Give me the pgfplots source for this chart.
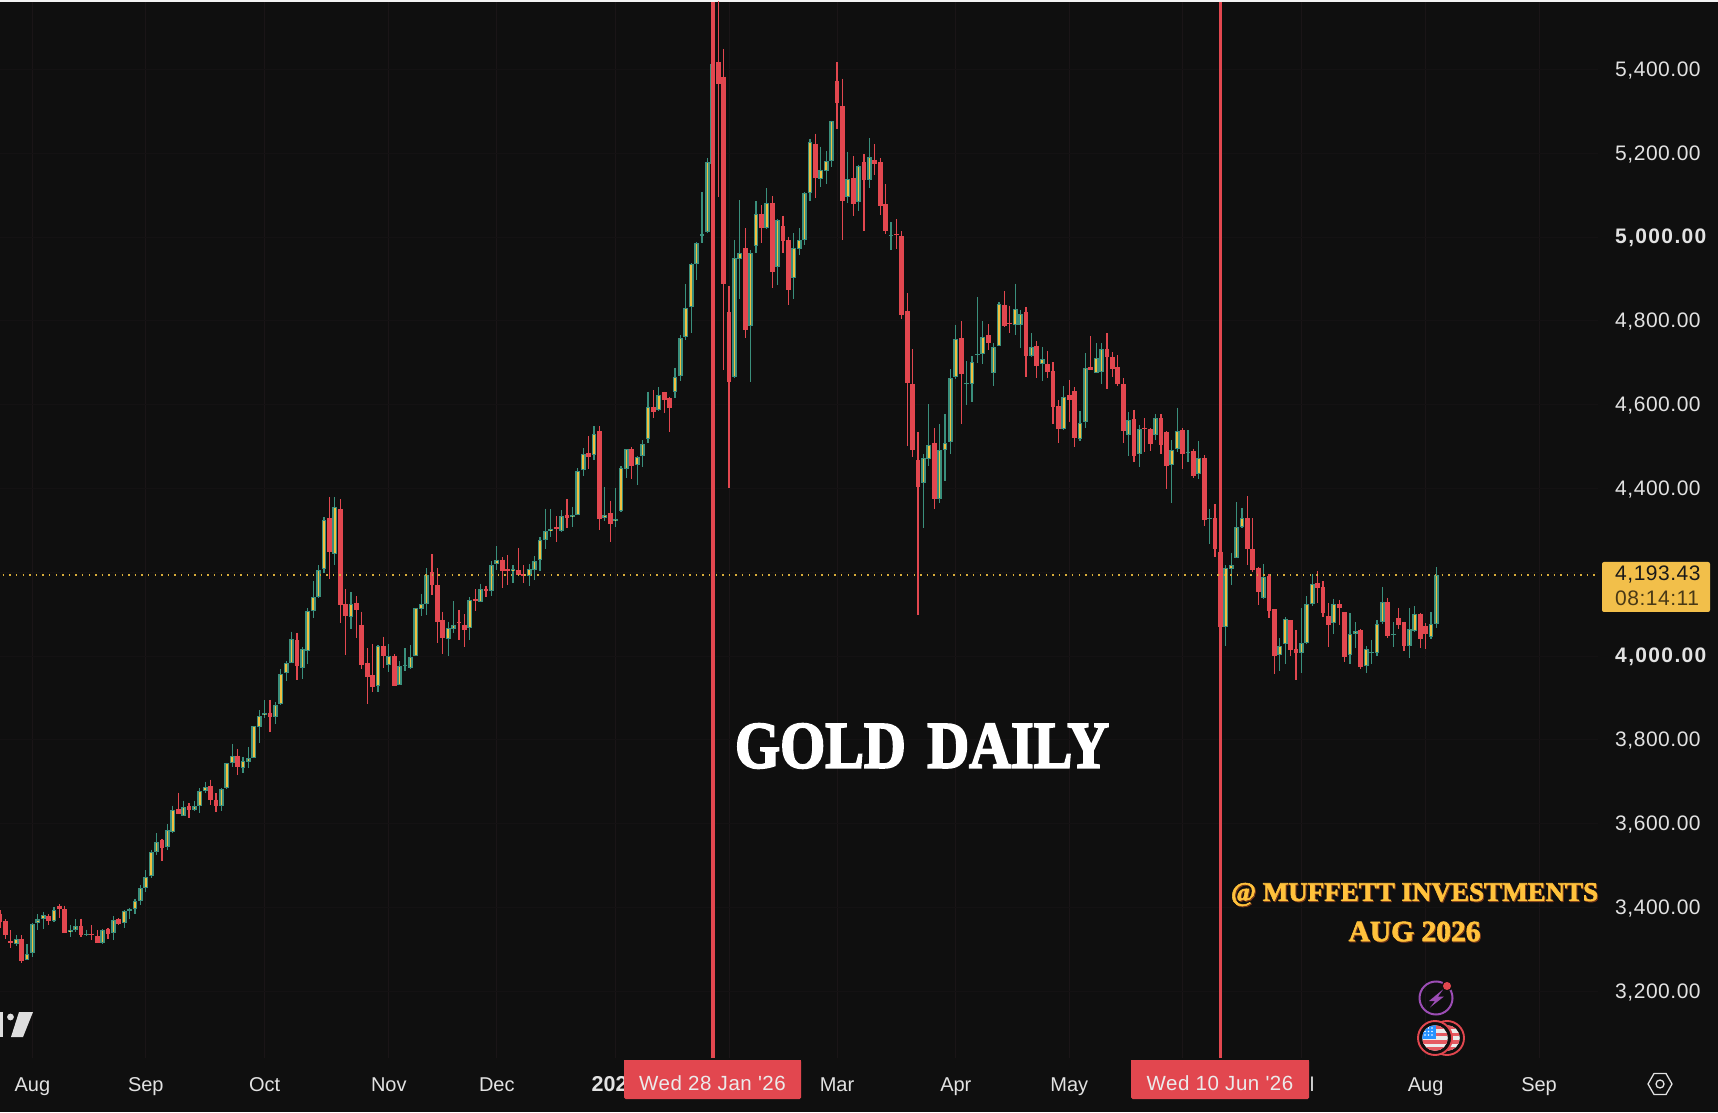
\documentclass[border=0pt]{standalone}
\usepackage{fontspec}
\usepackage{pgfplots}
\usepackage{pgfplotstable}
\pgfplotsset{compat=1.18}
\setmainfont{Liberation Sans}
\newfontfamily\ylab[LetterSpace=2.5]{Liberation Sans}
\newfontfamily\ylabb[LetterSpace=6.4]{Liberation Sans}
\newfontfamily\dlab[LetterSpace=2.5]{Liberation Sans}
\newfontfamily\ttlfont[BoldFeatures={FakeBold=3}]{Liberation Serif}
\newfontfamily\sigfont[BoldFeatures={FakeBold=2}]{Liberation Serif}
\definecolor{bg}{HTML}{0F0F0F}
\definecolor{gridc}{HTML}{1A1517}
\definecolor{gridh}{HTML}{141213}
\definecolor{upc}{HTML}{3A8F7C}
\definecolor{inc}{HTML}{F0C040}
\definecolor{dnc}{HTML}{E2474F}
\definecolor{txt}{HTML}{E2E2E2}
\definecolor{gold}{HTML}{FFC23C}
\definecolor{goldsh}{HTML}{7C3A18}
\definecolor{lab}{HTML}{F2BF4A}
\definecolor{purp}{HTML}{9C4DB5}

\pgfplotstableread{
i o h l c
3 3313 3333 3308 3324
5 3275 3313 3274 3289
6 3290 3362 3281 3361
7 3363 3383 3346 3371
8 3373 3390 3349 3381
10 3367 3401 3366 3393
13 3342 3358 3330 3347
14 3345 3371 3341 3355
16 3334 3347 3331 3337
19 3314 3348 3312 3347
21 3339 3379 3322 3370
23 3363 3393 3351 3392
24 3392 3398 3373 3396
25 3397 3421 3385 3415
26 3415 3453 3405 3447
27 3447 3488 3436 3473
28 3476 3538 3471 3531
29 3531 3577 3526 3557
31 3544 3598 3538 3584
32 3579 3643 3578 3633
34 3619 3655 3617 3639
36 3632 3655 3629 3641
37 3642 3684 3625 3677
38 3677 3700 3674 3687
41 3642 3684 3631 3683
42 3685 3745 3683 3744
43 3745 3790 3735 3762
45 3733 3760 3721 3749
46 3748 3782 3733 3757
47 3757 3833 3756 3833
48 3831 3870 3792 3856
49 3858 3894 3852 3865
51 3854 3890 3837 3884
52 3886 3969 3883 3958
53 3959 3989 3940 3983
54 3983 4058 3983 4040
56 3972 4021 3945 4016
57 4011 4115 3981 4108
58 4108 4179 4091 4140
59 4140 4216 4139 4205
60 4207 4331 4198 4324
62 4244 4380 4218 4355
65 4093 4152 4064 4124
70 3929 4026 3914 4023
72 3979 4028 3962 4000
74 3931 3988 3930 3977
75 3975 4018 3964 3978
76 3972 4026 3970 3998
77 3999 4115 3999 4114
78 4113 4147 4096 4124
79 4125 4209 4098 4193
83 4041 4082 4000 4066
84 4064 4131 4056 4075
87 4067 4140 4038 4133
89 4130 4173 4129 4161
91 4156 4226 4143 4217
92 4219 4262 4205 4230
95 4202 4217 4174 4208
98 4191 4220 4168 4207
99 4205 4238 4181 4227
100 4228 4284 4203 4278
101 4278 4352 4255 4298
102 4298 4350 4284 4304
104 4299 4348 4297 4335
106 4331 4355 4307 4337
107 4337 4448 4336 4441
108 4445 4496 4429 4483
110 4480 4548 4468 4531
112 4329 4403 4322 4337
114 4323 4401 4308 4328
115 4347 4454 4344 4448
116 4447 4494 4426 4494
118 4457 4477 4407 4475
119 4477 4515 4452 4506
120 4518 4631 4509 4595
122 4586 4642 4584 4624
125 4629 4688 4616 4667
126 4669 4766 4656 4760
127 4762 4888 4754 4830
128 4832 4938 4771 4935
129 4936 4987 4897 4985
130 5003 5107 4985 5007
131 5011 5189 5010 5179
132 5175 5420 5156 5414
136 4666 4992 4663 4949
137 4948 5088 4853 4961
139 4787 4969 4653 4963
140 4979 5085 4962 5055
142 5021 5117 5018 5081
144 4928 5044 4885 5040
147 4903 5009 4853 4975
148 4971 5021 4957 4992
149 4993 5107 4980 5104
150 5104 5235 5087 5226
152 5139 5216 5120 5161
153 5158 5205 5127 5182
154 5182 5278 5166 5276
157 5096 5204 5082 5138
159 5084 5173 5061 5169
161 5136 5236 5116 5190
165 5003 5035 4968 5006
171 4412 4481 4305 4473
172 4469 4601 4454 4504
174 4375 4553 4366 4491
175 4491 4578 4418 4508
176 4511 4684 4483 4664
177 4667 4791 4661 4757
179 4648 4703 4600 4651
180 4648 4715 4606 4702
181 4718 4856 4699 4720
182 4720 4799 4697 4762
184 4676 4747 4644 4737
185 4741 4844 4740 4839
188 4789 4889 4765 4829
189 4791 4826 4736 4817
191 4717 4770 4714 4737
193 4697 4737 4657 4708
197 4541 4645 4539 4619
200 4519 4585 4512 4555
201 4558 4722 4545 4688
203 4676 4747 4675 4712
204 4679 4747 4648 4733
209 4527 4582 4478 4563
211 4481 4551 4452 4542
214 4528 4578 4516 4567
217 4455 4515 4366 4492
218 4495 4593 4488 4538
220 4485 4539 4462 4488
222 4434 4513 4423 4473
224 4327 4352 4268 4329
227 4069 4217 4024 4209
228 4208 4246 4169 4217
229 4235 4367 4235 4307
230 4307 4353 4305 4329
234 4139 4220 4135 4189
237 4002 4042 3963 4024
238 4028 4093 3981 4089
241 4008 4115 3960 4030
242 4030 4143 4029 4123
243 4123 4195 4119 4173
247 4078 4137 4053 4123
250 4002 4102 3982 4052
251 4052 4080 4018 4060
253 3977 4023 3959 4017
254 4007 4038 3982 4010
255 4006 4085 4000 4076
256 4080 4165 4076 4128
258 4049 4080 4022 4052
261 4024 4115 3996 4064
262 4060 4119 4058 4101
265 4046 4105 4041 4076
266 4076 4212 4066 4193
}\upT

\pgfplotstableread{
i o h l c
0 3385 3393 3351 3364
1 3368 3371 3324 3334
2 3319 3345 3302 3316
4 3325 3333 3268 3272
9 3379 3383 3357 3367
11 3404 3407 3374 3395
12 3395 3404 3339 3339
15 3356 3373 3329 3334
17 3337 3357 3323 3335
18 3331 3346 3314 3314
20 3348 3351 3325 3336
22 3371 3374 3359 3361
30 3560 3563 3510 3542
33 3634 3674 3623 3623
35 3641 3649 3613 3632
39 3689 3705 3644 3656
40 3657 3673 3628 3642
44 3762 3778 3715 3734
50 3865 3896 3818 3855
55 4038 4056 3943 3975
61 4330 4380 4184 4248
63 4351 4374 4079 4121
64 4123 4160 4003 4096
66 4126 4142 4043 4109
67 4075 4106 3970 3979
68 3983 4018 3885 3950
69 3954 4028 3914 3926
71 4023 4046 3971 4000
73 4000 4004 3929 3929
80 4200 4243 4145 4169
81 4169 4209 4032 4082
82 4086 4106 4005 4043
85 4082 4110 4038 4079
86 4074 4100 4021 4063
88 4135 4159 4107 4132
90 4161 4168 4141 4156
93 4230 4236 4162 4203
94 4207 4240 4170 4203
96 4205 4258 4191 4194
97 4196 4217 4174 4190
103 4307 4334 4271 4303
105 4337 4374 4305 4330
109 4485 4525 4446 4476
111 4536 4548 4301 4328
113 4341 4371 4273 4316
117 4494 4499 4422 4453
121 4594 4634 4569 4583
123 4630 4631 4580 4612
124 4616 4619 4535 4593
133 5417 5595 5096 5365
134 5383 5449 4683 4889
135 4821 4883 4401 4655
138 4973 5021 4758 4779
141 5056 5076 4985 5022
143 5082 5097 4878 4917
145 5026 5051 4962 4991
146 4992 5001 4838 4874
151 5223 5247 5093 5140
155 5373 5417 5258 5320
156 5312 5378 4993 5085
158 5142 5193 5049 5080
160 5178 5198 5015 5135
162 5185 5222 5148 5174
163 5178 5189 5053 5074
164 5079 5126 5007 5015
166 5007 5043 4972 5004
167 5003 5014 4804 4815
168 4823 4866 4502 4652
169 4648 4733 4476 4492
170 4468 4535 4099 4404
173 4509 4543 4350 4375
178 4758 4799 4554 4674
183 4765 4792 4730 4746
186 4838 4870 4785 4788
187 4795 4836 4771 4792
190 4820 4833 4667 4717
192 4739 4752 4664 4691
194 4696 4728 4664 4677
195 4680 4701 4553 4594
196 4596 4610 4509 4542
198 4623 4659 4558 4612
199 4632 4642 4500 4521
202 4690 4763 4683 4683
205 4733 4770 4638 4713
206 4714 4725 4667 4686
207 4690 4718 4645 4649
208 4648 4663 4509 4538
210 4566 4588 4464 4478
212 4544 4568 4488 4542
213 4541 4543 4489 4506
215 4568 4578 4482 4504
216 4535 4537 4399 4453
219 4539 4543 4447 4483
221 4489 4495 4426 4430
223 4473 4479 4310 4325
225 4329 4362 4237 4256
226 4249 4270 4010 4069
231 4329 4381 4218 4256
232 4255 4329 4201 4205
233 4211 4213 4122 4153
235 4192 4196 4091 4108
236 4112 4112 3958 4000
239 4086 4086 4000 4014
240 4017 4062 3943 4006
244 4174 4203 4127 4162
245 4165 4178 4092 4103
246 4096 4126 4022 4075
248 4123 4134 4073 4115
249 4105 4105 3986 3998
252 4061 4064 3968 3974
257 4128 4139 4042 4048
259 4091 4115 4065 4074
260 4080 4082 4011 4025
263 4101 4103 4020 4041
264 4071 4078 4017 4053
}\dnT

\pgfplotsset{
  wickU/.style={draw=none,no marks,forget plot,error bars/.cd,y dir=minus,y explicit,error mark=none,error bar style={line width=1.15pt,draw=upc}},
  wickD/.style={draw=none,no marks,forget plot,error bars/.cd,y dir=minus,y explicit,error mark=none,error bar style={line width=1.15pt,draw=dnc}},
  bodyU/.style={draw=none,no marks,forget plot,error bars/.cd,y dir=minus,y explicit,error mark=none,error bar style={line width=4.8pt,draw=upc}},
  bodyI/.style={draw=none,no marks,forget plot,error bars/.cd,y dir=minus,y explicit,error mark=none,error bar style={line width=1.7pt,draw=inc}},
  bodyD/.style={draw=none,no marks,forget plot,error bars/.cd,y dir=minus,y explicit,error mark=none,error bar style={line width=4.9pt,draw=dnc}},
}

\newcommand{\usflag}[2]{%
  \fill[bg] (#1,#2) circle (17pt);
  \draw[dnc,line width=1.9pt] (#1,#2) circle (17pt);
  \begin{scope}
    \clip (#1,#2) circle (12.8pt);
    \fill[white!92!black] (#1-14,#2-14) rectangle (#1+14,#2+14);
    \foreach \k in {-11,-3.6,3.8,11}{\fill[dnc!90!white] (#1-14,#2+\k-1.8) rectangle (#1+14,#2+\k+1.8);}
    \fill[blue!50!cyan!85!white] (#1-14,#2-14) rectangle (#1+0.5,#2+0.8);
    \foreach \a in {-10,-6.5,-3}{\foreach \b in {-10,-6.5,-3}{\fill[white] (#1+\a,#2+\b) circle (0.8pt);}}
  \end{scope}}

\begin{document}
\begin{tikzpicture}
\fill[bg,use as bounding box] (0,0) rectangle (1718pt,1112pt);
\fill[white!95!black] (0,1110pt) rectangle (1718pt,1112pt);
\begin{axis}[
  at={(0pt,54pt)},anchor=south west,
  scale only axis,width=1598pt,height=1056pt,
  xmin=0,xmax=295.926,ymin=3040.4,ymax=5561,
  axis line style={draw=none},
  major tick length=0pt,
  tick style={draw=none},
  grid=major,
  x grid style={gridc,line width=0.9pt},
  y grid style={gridh,line width=0.9pt},
  yticklabel pos=right,
  ytick={3200,3400,3600,3800,4000,4200,4400,4600,4800,5000,5200,5400},
  yticklabels={{3,200.00},{3,400.00},{3,600.00},{3,800.00},{\ylabb\bfseries 4,000.00},{},{4,400.00},{4,600.00},{4,800.00},{\ylabb\bfseries 5,000.00},{5,200.00},{5,400.00}},
  y tick label style={anchor=west,inner sep=0pt,xshift=17pt,yshift=-1pt,text=txt,font=\fontsize{21}{25}\selectfont\ylab},
  xtick={6,27,49,72,92,114,135,155,177,198,219,241,264,285},
  xticklabels={Aug,Sep,Oct,Nov,Dec,{\fontsize{21.5}{25}\selectfont\textbf{2026}},{},Mar,Apr,May,{},Jul,Aug,Sep},
  x tick label style={anchor=base,inner sep=0pt,yshift=-33pt,text=txt,font=\fontsize{20}{24}\selectfont},
]
\addplot[wickU] table[x=i,y=h,y error minus expr=\thisrow{h}-\thisrow{l}]{\upT};
\addplot[wickD] table[x=i,y=h,y error minus expr=\thisrow{h}-\thisrow{l}]{\dnT};
\addplot[bodyU] table[x=i,y=c,y error minus expr=\thisrow{c}-\thisrow{o}]{\upT};
\addplot[bodyI] table[x=i,y expr=\thisrow{c}-2.4,y error minus expr={max(\thisrow{c}-\thisrow{o}-4.8,0)}]{\upT};
\addplot[bodyD] table[x=i,y=o,y error minus expr=\thisrow{o}-\thisrow{c}]{\dnT};
\addplot[forget plot,color=inc!90!black,line width=1.3pt,dash pattern=on 1.5pt off 5.1pt] coordinates {(0.5,4193.43)(295.3,4193.43)};
\addplot[forget plot,color=dnc,line width=3.2pt] coordinates {(132.04,3040.4)(132.04,5561)};
\addplot[forget plot,color=dnc,line width=3pt] coordinates {(225.93,3040.4)(225.93,5561)};
\end{axis}
\begin{scope}[x=1pt,y=-1pt,shift={(0pt,1112pt)}]
  % date labels
  \fill[dnc,rounded corners=1.5pt] (624,1060) rectangle (801,1099);
  \fill[dnc] (624,1060) rectangle (801,1080);
  \node[text=white!92!black,inner sep=0pt] at (712.5,1083.5) {\fontsize{20.5}{24}\selectfont\dlab Wed 28 Jan \symbol{39}26};
  \fill[dnc,rounded corners=1.5pt] (1131,1060) rectangle (1309,1099);
  \fill[dnc] (1131,1060) rectangle (1309,1080);
  \node[text=white!92!black,inner sep=0pt] at (1220,1083.5) {\fontsize{20.5}{24}\selectfont\dlab Wed 10 Jun \symbol{39}26};
  % title
  \node[text=white,inner sep=0pt] at (922,746) {\resizebox{374pt}{44pt}{\ttlfont\bfseries\fontsize{66}{70}\selectfont GOLD\hspace{0.12em} DAILY}};
  % signature
  \node[text=goldsh,inner sep=0pt,anchor=center] at (1415.5,895.5) {\sigfont\bfseries\fontsize{27}{30}\selectfont @ MUFFETT INVESTMENTS};
  \node[text=gold,inner sep=0pt,anchor=center] at (1414.5,894.5) {\sigfont\bfseries\fontsize{27}{30}\selectfont @ MUFFETT INVESTMENTS};
  \node[text=goldsh,inner sep=0pt,anchor=center] at (1415.5,932.5) {\sigfont\bfseries\fontsize{29.5}{32}\selectfont AUG 2026};
  \node[text=gold,inner sep=0pt,anchor=center] at (1414.5,931.5) {\sigfont\bfseries\fontsize{29.5}{32}\selectfont AUG 2026};
  % price label
  \fill[lab,rounded corners=2pt] (1602,562) rectangle (1710,612);
  \node[text=black!90!white,inner sep=0pt,anchor=west] at (1615,575) {\fontsize{21}{25}\selectfont\ylab 4,193.43};
  \node[text=black!70!lab,inner sep=0pt,anchor=west] at (1615,598) {\fontsize{21}{25}\selectfont\ylab 08:14:11};
  % settings icon
  \draw[txt,line width=1.3pt,line join=round] (1648,1084)--(1654,1073.5)--(1666,1073.5)--(1672,1084)--(1666,1094.5)--(1654,1094.5)--cycle;
  \draw[txt,line width=1.3pt] (1660,1084) circle (4pt);
  % logo
  \fill[white!87!black] (0,1012) rectangle (3,1037);
  \fill[white!87!black] (10.5,1017) circle (3.4pt);
  \fill[white!87!black] (19,1012)--(33,1012)--(23,1037)--(11,1037)--cycle;
  % lightning
  \draw[purp,line width=2pt] (1436,998) circle (16.5pt);
  \fill[purp] (1443.5,989)--(1429,1001)--(1435,1001)--(1430,1007.5)--(1444,996.5)--(1438,996.5)--cycle;
  \fill[bg] (1447,986) circle (5.5pt);
  \fill[dnc] (1447,986) circle (4pt);
  % flags
  \usflag{1447}{1038}
  \usflag{1435}{1038}
\end{scope}
\end{tikzpicture}
\end{document}
